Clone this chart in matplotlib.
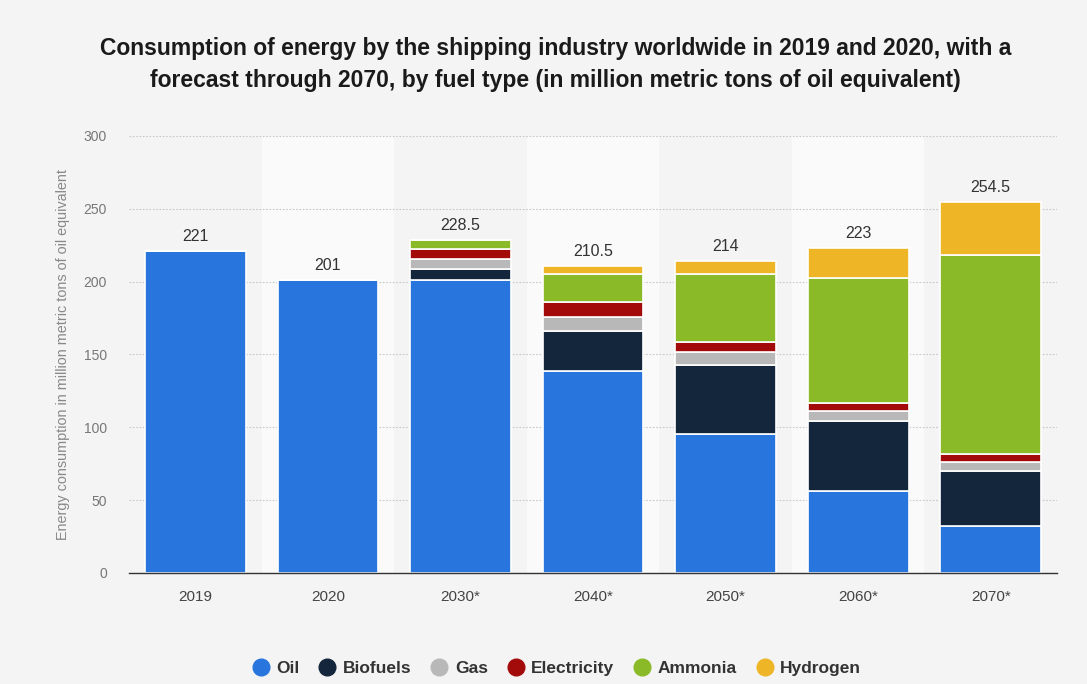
import numpy as np
import matplotlib.pyplot as plt
from matplotlib.lines import Line2D

plt.rcParams['font.family'] = ['Liberation Sans', 'DejaVu Sans']

# data (million metric tons of oil equivalent)
years = ['2019', '2020', '2030*', '2040*', '2050*', '2060*', '2070*']
fuels = ['Oil', 'Biofuels', 'Gas', 'Electricity', 'Ammonia', 'Hydrogen']
oil = [221, 201, 201, 139, 95.5, 56.5, 32.5]
biofuels = [0, 0, 8, 27, 47.5, 47.5, 37.5]
gas = [0, 0, 6.5, 10, 8.5, 7, 6]
electricity = [0, 0, 7, 10, 7, 6, 6]
ammonia = [0, 0, 6, 19, 47, 85.5, 136.5]
hydrogen = [0, 0, 0, 5.5, 8.5, 20.5, 36]
totals = [221, 201, 228.5, 210.5, 214, 223, 254.5]

colors = ['#2876dd', '#13263b', '#b8b8b8', '#a30a0a', '#8aba27', '#eeb526']
series = [oil, biofuels, gas, electricity, ammonia, hydrogen]

fig = plt.figure(figsize=(10.87, 6.84), dpi=100, facecolor='#f4f4f4')
ax = fig.add_axes([0.1187, 0.1623, 0.8537, 0.6389])
ax.set_facecolor('#f4f4f4')

x = np.arange(len(years))
# lighter background bands on alternate columns
for i in x:
    if i % 2 == 1:
        ax.axvspan(i - 0.5, i + 0.5, color='#fafafa', zorder=0, lw=0)

bottom = np.zeros(len(years))
for vals, c, name in zip(series, colors, fuels):
    vals = np.array(vals, dtype=float)
    ax.bar(x, vals, 0.76, bottom=bottom, color=c, edgecolor='white',
           linewidth=1.2, zorder=3, label=name)
    bottom += vals

for xi, t in zip(x, totals):
    ax.text(xi, t + 5, f'{t:g}', ha='center', va='bottom', fontsize=11.5,
            color='#333333', zorder=4)

ax.set_xlim(-0.5, 6.5)
ax.set_ylim(0, 300)
ax.set_yticks(range(0, 301, 50))
ax.set_xticks(x)
ax.set_xticklabels(years)
ax.tick_params(axis='y', length=0, pad=16, labelsize=10, labelcolor='#777777')
ax.tick_params(axis='x', length=0, pad=12, labelsize=11, labelcolor='#444444')
ax.grid(axis='y', color='#c8c8c8', linestyle=(0, (1.5, 1.5)), linewidth=0.8, zorder=1)
for s in ['top', 'right', 'left']:
    ax.spines[s].set_visible(False)
ax.spines['bottom'].set_color('#333333')
ax.spines['bottom'].set_linewidth(1)
ax.spines['bottom'].set_zorder(5)

ax.set_ylabel('Energy consumption in million metric tons of oil equivalent',
              fontsize=10.4, color='#888888', labelpad=10)

fig.text(0.511, 0.905, 'Consumption of energy by the shipping industry worldwide in 2019 and 2020, with a\n'
         'forecast through 2070, by fuel type (in million metric tons of oil equivalent)',
         ha='center', va='center', fontsize=16.5, fontweight='bold', color='#1a1a1a',
         linespacing=1.5)

handles = [Line2D([0], [0], marker='o', linestyle='none', markersize=12,
                  markerfacecolor=c, markeredgecolor=c) for c in colors]
leg = fig.legend(handles, fuels, loc='center', bbox_to_anchor=(0.512, 0.023), ncol=6,
                 frameon=False, fontsize=12.5, handlelength=1.0, handletextpad=0.4,
                 columnspacing=1.1)
for t in leg.get_texts():
    t.set_color('#333333')
    t.set_fontweight('bold')

fig.savefig('out.png', dpi=100, facecolor=fig.get_facecolor())
